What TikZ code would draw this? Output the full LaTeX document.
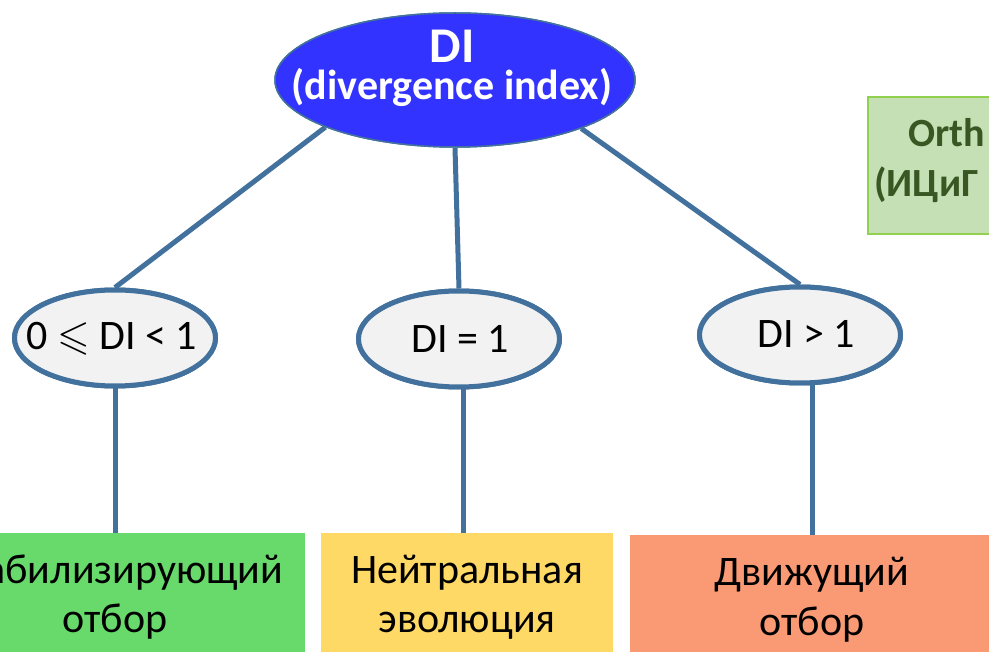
\documentclass[tikz,border=0pt]{standalone}
\usepackage{fontspec}
\usepackage{amssymb}
\setmainfont{Carlito}
\usetikzlibrary{shapes.geometric}

\definecolor{edgeblue}{HTML}{41719C}
\definecolor{rootblue}{HTML}{3333FF}
\definecolor{leafgray}{HTML}{F2F2F2}
\definecolor{stabgreen}{HTML}{67DA6B}
\definecolor{neutyellow}{HTML}{FFD966}
\definecolor{drivorange}{HTML}{FA9A74}
\definecolor{dbfill}{HTML}{C5E0B4}
\definecolor{dbedge}{HTML}{92D050}
\definecolor{dbtext}{HTML}{385723}

\tikzset{
  rootnode/.style={ellipse, draw=edgeblue, line width=1.5pt, fill=rootblue,
    minimum width=360pt, minimum height=134pt, inner sep=0pt},
  roottext/.style={text=white, inner sep=0pt, anchor=base},
  leafnode/.style={ellipse, draw=edgeblue, line width=5pt, fill=leafgray,
    minimum width=201pt, minimum height=96pt, inner sep=0pt},
  leaftext/.style={inner sep=0pt, anchor=base, font=\fontsize{42}{50}\selectfont},
  outcome/.style={rectangle, draw=none, inner sep=0pt, anchor=north,
    minimum height=130pt},
  outtext/.style={inner sep=0pt, anchor=base, font=\fontsize{42}{50}\selectfont},
  branch/.style={draw=edgeblue, line width=5pt},
  dbbox/.style={rectangle, draw=dbedge, line width=2pt, fill=dbfill,
    anchor=north west, minimum width=200pt, minimum height=137pt, inner sep=0pt},
  dbtextstyle/.style={text=dbtext, inner sep=0pt, anchor=base west,
    font=\bfseries\fontsize{40}{48}\selectfont},
}

\begin{document}
\begin{tikzpicture}[x=1pt, y=-1pt]
\useasboundingbox (0,0) rectangle (989,652);
\clip (0,0) rectangle (989,652);

% database reference box on the right
\node[dbbox] (db) at (867,96) {};
\node[dbtextstyle] (dbA) at (908,147) {Orth};
\node[dbtextstyle] (dbB) at (874,197) {(ИЦиГ};

% outcome boxes
\node[outcome, fill=stabgreen, minimum width=380pt] (stab) at (115,533) {};
\node[outcome, fill=neutyellow, minimum width=292pt] (neut) at (467,533) {};
\node[outcome, fill=drivorange, minimum width=364pt] (driv) at (812,535) {};

% ellipse placement
\node[rootnode] (root) at (455,80) {};
\node[leafnode] (lo) at (115,338) {};
\node[leafnode] (eq) at (459,339) {};
\node[leafnode] (hi) at (800,335) {};

% connectors
\draw[branch] (root.200.7) -- (lo.north);
\draw[branch] (root.south) -- (eq.north);
\draw[branch] (root.339.7) -- (hi.north);
\draw[branch] (stab.north) -- (stab.north |- lo.south);
\draw[branch] ([xshift=-4pt]neut.north) -- ([xshift=-4pt]neut.north |- eq.south);
\draw[branch] (driv.north) -- (driv.north |- hi.south);

% redraw the ellipses over the line ends
\node[rootnode] at (root) {};
\node[leafnode] at (lo) {};
\node[leafnode] at (eq) {};
\node[leafnode] at (hi) {};

% root labels
\node[roottext, font=\bfseries\fontsize{50}{60}\selectfont] (rootA) at (452,63) {DI};
\node[roottext, font=\bfseries\fontsize{42}{50}\selectfont] (rootB) at (452,100) {(divergence index)};

% leaf labels
\node[leaftext] (loT) at (112,350) {0 $\leqslant$ DI < 1};
\node[leaftext] (eqT) at (460,353) {DI = 1};
\node[leaftext] (hiT) at (806,348) {DI > 1};

% outcome labels
\node[outtext] (stabA) at (115,583) {Стабилизирующий};
\node[outtext] (stabB) at (115,632) {отбор};
\node[outtext] (neutA) at (467,583) {Нейтральная};
\node[outtext] (neutB) at (467,632) {эволюция};
\node[outtext] (drivA) at (812,585) {Движущий};
\node[outtext] (drivB) at (812,635) {отбор};
\end{tikzpicture}
\end{document}
